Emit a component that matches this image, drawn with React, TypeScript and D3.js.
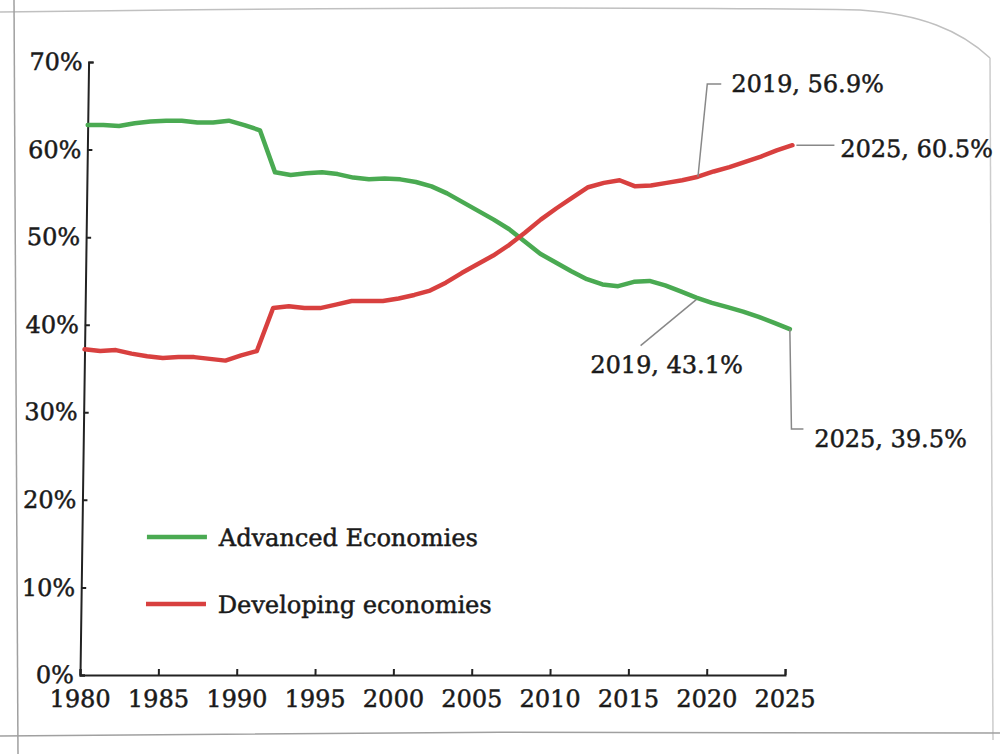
import React, { useEffect, useRef } from "react";
import * as d3 from "d3";

const years = [1980, 1981, 1982, 1983, 1984, 1985, 1986, 1987, 1988, 1989, 1990, 1991, 1992, 1993, 1994, 1995, 1996, 1997, 1998, 1999, 2000, 2001, 2002, 2003, 2004, 2005, 2006, 2007, 2008, 2009, 2010, 2011, 2012, 2013, 2014, 2015, 2016, 2017, 2018, 2019, 2020, 2021, 2022, 2023, 2024, 2025];

const advanced = [62.8, 62.8, 62.7, 63.0, 63.2, 63.3, 63.3, 63.1, 63.1, 63.3, 62.8, 62.2, 57.4, 57.1, 57.3, 57.4, 57.2, 56.8, 56.6, 56.7, 56.6, 56.3, 55.8, 55.0, 54.0, 53.0, 52.0, 50.9, 49.5, 48.1, 47.1, 46.1, 45.2, 44.6, 44.4, 44.9, 45.0, 44.5, 43.8, 43.1, 42.5, 42.0, 41.5, 40.9, 40.2, 39.5];

const developing = [37.2, 37.0, 37.1, 36.7, 36.4, 36.2, 36.3, 36.3, 36.1, 35.9, 36.5, 37.0, 41.9, 42.1, 41.9, 41.9, 42.3, 42.7, 42.7, 42.7, 43.0, 43.4, 43.9, 44.8, 45.9, 46.9, 47.9, 49.1, 50.5, 52.0, 53.3, 54.5, 55.7, 56.2, 56.5, 55.8, 55.9, 56.2, 56.5, 56.9, 57.5, 58.0, 58.6, 59.2, 59.9, 60.5];

const xTicks = [1980, 1985, 1990, 1995, 2000, 2005, 2010, 2015, 2020, 2025];
const yTicks = [0, 10, 20, 30, 40, 50, 60, 70];

const seriesNames = ["Advanced Economies", "Developing economies"];
const seriesColors = ["#4aaa52", "#d8403f"];

const annoDev2019 = { year: 2019, value: 56.9, label: "2019, 56.9%" };
const annoDev2025 = { year: 2025, value: 60.5, label: "2025, 60.5%" };
const annoAdv2019 = { year: 2019, value: 43.1, label: "2019, 43.1%" };
const annoAdv2025 = { year: 2025, value: 39.5, label: "2025, 39.5%" };

const FONT = "'DejaVu Serif', serif";
const FS = 24;

export default function App() {
  const xAxisRef = useRef<SVGGElement>(null);
  const yAxisRef = useRef<SVGGElement>(null);

  const x = d3.scaleLinear().domain([1980, 2025]).range([80, 785]);
  const y = d3.scaleLinear().domain([0, 70]).range([675, 62]);

  const line = d3
    .line<number>()
    .x((_, i) => x(years[i]))
    .y((d) => y(d))
    .curve(d3.curveLinear);

  useEffect(() => {
    if (xAxisRef.current) {
      const g = d3.select(xAxisRef.current);
      g.call(
        d3
          .axisBottom(x)
          .tickValues(xTicks)
          .tickFormat((d) => String(d))
          .tickSizeInner(-6)
          .tickSizeOuter(-6)
          .tickPadding(15)
      );
      g.selectAll("path,line").attr("stroke", "#222").attr("stroke-width", 2);
      g.selectAll("text")
        .attr("font-family", FONT)
        .attr("font-size", FS)
        .attr("fill", "#1a1a1a")
        .attr("stroke", "#1a1a1a")
        .attr("stroke-width", 0.5);
    }
    if (yAxisRef.current) {
      const g = d3.select(yAxisRef.current);
      g.call(
        d3
          .axisLeft(y)
          .tickValues(yTicks)
          .tickFormat((d) => `${d}%`)
          .tickSizeInner(-5)
          .tickSizeOuter(-5)
          .tickPadding(6)
      );
      g.selectAll("path,line").attr("stroke", "#222").attr("stroke-width", 2);
      g.selectAll("text")
        .attr("font-family", FONT)
        .attr("font-size", FS)
        .attr("fill", "#1a1a1a")
        .attr("stroke", "#1a1a1a")
        .attr("stroke-width", 0.5);
    }
  }, []);

  const c = -0.014;
  const skew = `matrix(1,0,${c},1,${-c * 675},0)`;

  const pD19 = [x(annoDev2019.year), y(annoDev2019.value)];
  const pD25 = [x(annoDev2025.year), y(annoDev2025.value)];
  const pA19 = [x(annoAdv2019.year), y(annoAdv2019.value)];
  const pA25 = [x(annoAdv2025.year), y(annoAdv2025.value)];

  const textStyle = {
    fontFamily: FONT,
    fontSize: FS,
    fill: "#1a1a1a",
    stroke: "#1a1a1a",
    strokeWidth: 0.5,
  } as React.CSSProperties;

  return (
    <svg
      width={1000}
      height={754}
      style={{ position: "absolute", left: 0, top: 0, background: "#ffffff" }}
    >
      {/* paper edges */}
      <path d="M0,12 C300,8 600,6 860,10 C920,14 960,30 990,58" fill="none" stroke="#c0c0c0" strokeWidth={1.5} />
      <path d="M990,58 L993,740" fill="none" stroke="#cccccc" strokeWidth={1.5} />
      <path d="M14,0 L18,754" fill="none" stroke="#a0a0a0" strokeWidth={1.5} />
      <path d="M0,736 C300,732 700,731 1000,733" fill="none" stroke="#a0a0a0" strokeWidth={1.5} />

      <g transform={skew}>
        <g ref={xAxisRef} transform={`translate(0,${675})`} />
        <g ref={yAxisRef} transform={`translate(${80},0)`} />

        <path d={line(advanced) || ""} fill="none" stroke={seriesColors[0]} strokeWidth={4.5} strokeLinejoin="round" strokeLinecap="round" />
        <path d={line(developing) || ""} fill="none" stroke={seriesColors[1]} strokeWidth={4.5} strokeLinejoin="round" strokeLinecap="round" />

        {/* annotations */}
        <polyline
          points={`${pD19[0]},${pD19[1]} ${pD19[0] + 8},${84} ${pD19[0] + 22},${84}`}
          fill="none"
          stroke="#888"
          strokeWidth={1.5}
        />
        <text x={pD19[0] + 32} y={92} style={textStyle}>{annoDev2019.label}</text>

        <polyline
          points={`${pD25[0] + 4},${pD25[1]} ${pD25[0] + 42},${pD25[1]}`}
          fill="none"
          stroke="#888"
          strokeWidth={1.5}
        />
        <text x={pD25[0] + 48} y={pD25[1] + 12} style={textStyle}>{annoDev2025.label}</text>

        <polyline
          points={`${pA19[0]},${pA19[1] + 2} ${pA19[0] - 55},${pA19[1] + 48}`}
          fill="none"
          stroke="#888"
          strokeWidth={1.5}
        />
        <text x={pA19[0] - 105} y={pA19[1] + 75} style={textStyle}>{annoAdv2019.label}</text>

        <polyline
          points={`${pA25[0]},${pA25[1]} ${pA25[0] + 3},${pA25[1] + 100} ${pA25[0] + 15},${pA25[1] + 100}`}
          fill="none"
          stroke="#888"
          strokeWidth={1.5}
        />
        <text x={pA25[0] + 26} y={pA25[1] + 118} style={textStyle}>{annoAdv2025.label}</text>

        {/* legend */}
        {seriesNames.map((name, i) => (
          <g key={name} transform={`translate(145,${537 + i * 67})`}>
            <line x1={0} x2={60} y1={0} y2={0} stroke={seriesColors[i]} strokeWidth={4.5} />
            <text x={72} y={9} style={textStyle}>{name}</text>
          </g>
        ))}
      </g>
    </svg>
  );
}
